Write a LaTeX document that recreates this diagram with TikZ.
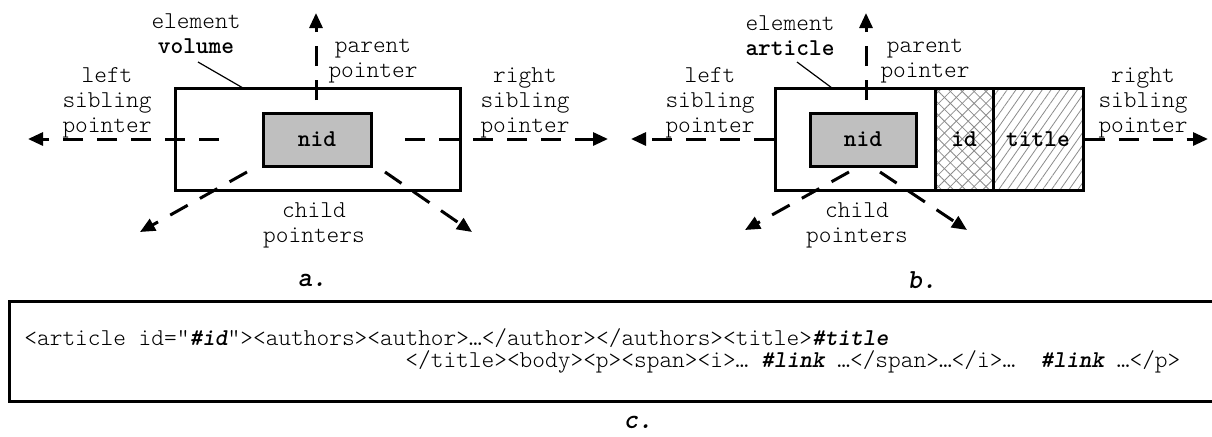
\documentclass[tikz,border=0pt]{standalone}
\usepackage{fontspec}
\setmainfont{lmmonolt10-regular.otf}[
  BoldFont=lmmonolt10-bold.otf,
  ItalicFont=lmmonolt10-oblique.otf,
  BoldItalicFont=lmmonolt10-boldoblique.otf]
\usetikzlibrary{arrows.meta,patterns.meta}

\tikzset{
  lbl/.style={font=\fontsize{12.1}{12.6}\selectfont, align=center, inner sep=0pt},
  box/.style={draw, line width=1.5pt, inner sep=0pt},
  nidbox/.style={box, fill=black!25, minimum height=26.5pt,
    font=\fontsize{12.1}{12.6}\selectfont\bfseries},
  ptr/.style={line width=1.5pt, dash pattern=on 10pt off 7pt,
    -{Triangle[length=7.5pt,width=6.5pt]}},
  lead/.style={line width=0.6pt},
  tag/.style={font=\fontsize{13.8}{14}\selectfont\bfseries\itshape, inner sep=0pt}
}
\newcommand{\hlt}[1]{{\bfseries\itshape #1}}

\begin{document}
\begin{tikzpicture}[x=0.5pt,y=-0.5pt]
\clip (0,0) rectangle (1212,436);
\fill[white] (0,0) rectangle (1212,436);

% ---------- a. element volume ----------
\node[box, minimum width=142.5pt, minimum height=51pt] (aout) at (317.5,139) {};
\node[nidbox, minimum width=54pt] (anid) at (317,139.5) {nid};

\coordinate (aPs) at (316,100);  \coordinate (aPe) at (316,13);
\coordinate (aLs) at (219,139);  \coordinate (aLe) at (28,139);
\coordinate (aRs) at (405,139);  \coordinate (aRe) at (608,139);
\coordinate (aC1s) at (247,172); \coordinate (aC1e) at (140,232);
\coordinate (aC2s) at (385,172); \coordinate (aC2e) at (472,232);
\draw[ptr] (aPs) -- (aPe);
\draw[ptr] (aLs) -- (aLe);
\draw[ptr] (aRs) -- (aRe);
\draw[ptr] (aC1s) -- (aC1e);
\draw[ptr] (aC2s) -- (aC2e);

\node[lbl] (aelem) at (196,34) {element\\\textbf{volume}};
\coordinate (aElemTip) at (243,88);
\draw[lead] (198,62) -- (aElemTip);
\node[lbl] (apar) at (373,61) {parent\\pointer};
\node[lbl] (aleft) at (107,103) {left\\sibling\\pointer};
\node[lbl] (aright) at (525,103) {right\\sibling\\pointer};
\node[lbl] (achild) at (314,225) {child\\pointers};
\node[tag] (acap) at (312,280) {a.};

% ---------- b. element article ----------
\fill[pattern={Lines[angle=45,distance=4.2pt,line width=0.4pt]}, pattern color=black!45]
  (935,88) rectangle (993,190);
\fill[pattern={Lines[angle=-45,distance=4.2pt,line width=0.4pt]}, pattern color=black!45]
  (935,88) rectangle (993,190);
\fill[pattern={Lines[angle=55,distance=3.6pt,line width=0.4pt]}, pattern color=black!45]
  (993,88) rectangle (1083,190);
\node[box, minimum width=80pt, minimum height=51pt] (bleft) at (855,139) {};
\node[box, minimum width=29pt, minimum height=51pt,
  font=\fontsize{12.1}{12.6}\selectfont\bfseries] (bid) at (964,139) {id};
\node[box, minimum width=45pt, minimum height=51pt,
  font=\fontsize{12.1}{12.6}\selectfont\bfseries] (btitle) at (1038,139) {title};
\node[nidbox, minimum width=53pt] (bnid) at (863,139.5) {nid};

\coordinate (bPs) at (866,100);  \coordinate (bPe) at (866,13);
\coordinate (bLe) at (631,139);
\coordinate (bRe) at (1208,139);
\coordinate (bC1s) at (849,172); \coordinate (bC1e) at (745,230);
\coordinate (bC2s) at (880,172); \coordinate (bC2e) at (967,230);
\draw[ptr] (bPs) -- (bPe);
\draw[ptr] (bleft.west) -- (bLe);
\draw[ptr] (btitle.east) -- (bRe);
\draw[ptr] (bC1s) -- (bC1e);
\draw[ptr] (bC2s) -- (bC2e);

\node[lbl] (belem) at (790,36) {element\\\textbf{article}};
\coordinate (bElemTip) at (832,88);
\draw[lead] (797,62) -- (bElemTip);
\node[lbl] (bpar) at (925,61) {parent\\pointer};
\node[lbl] (bleftlbl) at (710,103) {left\\sibling\\pointer};
\node[lbl] (brightlbl) at (1143,103) {right\\sibling\\pointer};
\node[lbl] (bchild) at (857,225) {child\\pointers};
\node[tag] (bcap) at (922,280) {b.};

% ---------- c. sample article markup ----------
\node[box, minimum width=610.5pt, minimum height=50pt] (cbox) at (619.5,351) {};
\node[lbl, anchor=base west] (cl1) at (24,345)
  {<article id=”\hlt{\#id}”><authors><author>…</author></authors><title>\hlt{\#title}};
\node[lbl, anchor=base west] (cl2) at (405,367)
  {</title><body><p><span><i>… \hlt{\#link} …</span>…</i>…~~\hlt{\#link} …</p>};
\node[tag] (ccap) at (638,422) {c.};
\end{tikzpicture}
\end{document}
